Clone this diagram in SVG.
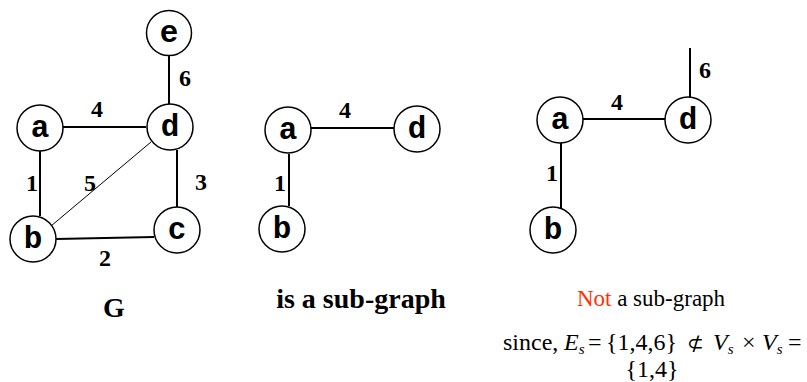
<svg xmlns="http://www.w3.org/2000/svg" width="807" height="382" viewBox="0 0 807 382">
<style>
.n circle{fill:#fff;stroke:#000;stroke-width:1.5}
.n text{font-family:'Liberation Mono','Courier New',monospace;font-weight:bold;font-size:31px;text-anchor:middle;dominant-baseline:central}
.e line{stroke:#000;stroke-width:2}
.e line.thin{stroke-width:1}
.w{font-family:'Liberation Serif','Times New Roman',serif;font-weight:bold;font-size:24px;text-anchor:middle}
.c{font-family:'Liberation Serif','Times New Roman',serif;font-weight:bold;font-size:28px;text-anchor:middle}
.t{font-family:'Liberation Serif','Times New Roman',serif;font-size:23px}
.s{font-family:'Liberation Serif','Times New Roman',serif;font-size:24px}
.i{font-style:italic}
.sub{font-style:italic;font-size:15px}
</style>
<rect width="807" height="382" fill="#fff"/>
<g class="e" id="connectors">
<line x1="169" y1="56" x2="169" y2="104"/>
<line x1="63" y1="127" x2="146" y2="127"/>
<line x1="40" y1="151" x2="40" y2="216"/>
<line class="thin" x1="51" y1="226" x2="151" y2="142"/>
<line x1="177" y1="150" x2="177" y2="207"/>
<line x1="56" y1="239" x2="154" y2="237"/>
<line x1="311" y1="128" x2="394" y2="128"/>
<line x1="289" y1="154" x2="289" y2="206"/>
<line x1="583" y1="119" x2="665" y2="119"/>
<line x1="561" y1="143" x2="561" y2="208"/>
<line x1="690" y1="48" x2="690" y2="97"/>
</g>
<g id="G-e" class="n"><circle cx="169" cy="33" r="22.5"/><text x="169" y="33">e</text></g>
<g id="G-a" class="n"><circle cx="40" cy="128" r="23"/><text x="40" y="128">a</text></g>
<g id="G-d" class="n"><circle cx="170" cy="127" r="23"/><text x="170" y="127">d</text></g>
<g id="G-b" class="n"><circle cx="33" cy="239" r="23"/><text x="33" y="239">b</text></g>
<g id="G-c" class="n"><circle cx="177" cy="230" r="23"/><text x="177" y="230">c</text></g>
<g id="S-a" class="n"><circle cx="288" cy="130" r="23"/><text x="288" y="130">a</text></g>
<g id="S-d" class="n"><circle cx="417" cy="129" r="23"/><text x="417" y="129">d</text></g>
<g id="S-b" class="n"><circle cx="282" cy="229" r="23"/><text x="282" y="229">b</text></g>
<g id="N-a" class="n"><circle cx="560" cy="120" r="23"/><text x="560" y="120">a</text></g>
<g id="N-d" class="n"><circle cx="688" cy="120" r="23"/><text x="688" y="120">d</text></g>
<g id="N-b" class="n"><circle cx="553" cy="230" r="23"/><text x="553" y="230">b</text></g>
<g id="labels">
<text class="w" x="185" y="86">6</text>
<text class="w" x="97" y="117">4</text>
<text class="w" x="32" y="191">1</text>
<text class="w" x="90" y="191">5</text>
<text class="w" x="201" y="190">3</text>
<text class="w" x="105" y="266">2</text>
<text class="w" x="345" y="118">4</text>
<text class="w" x="280" y="191">1</text>
<text class="w" x="617" y="110">4</text>
<text class="w" x="552" y="181">1</text>
<text class="w" x="705" y="78">6</text>
</g>
<g id="captions">
<text class="c" x="114" y="317">G</text>
<text class="c" x="361" y="308">is a sub-graph</text>
<text class="t" x="651" y="306" text-anchor="middle"><tspan fill="#ff3300">Not</tspan> a sub-graph</text>
<text class="s" y="350"><tspan x="503">since,</tspan><tspan x="564" class="i">E</tspan><tspan class="sub" dy="4">s</tspan><tspan x="588" dy="-4">=</tspan><tspan x="606">{1,4,6}</tspan><tspan x="687" font-size="20">⊄</tspan><tspan x="713" class="i">V</tspan><tspan class="sub" dy="4">s</tspan><tspan x="742" dy="-4">×</tspan><tspan x="762" class="i">V</tspan><tspan class="sub" dy="4">s</tspan><tspan x="788" dy="-4">=</tspan></text>
<text class="s" x="652" y="377" text-anchor="middle">{1,4}</text>
</g>
</svg>
